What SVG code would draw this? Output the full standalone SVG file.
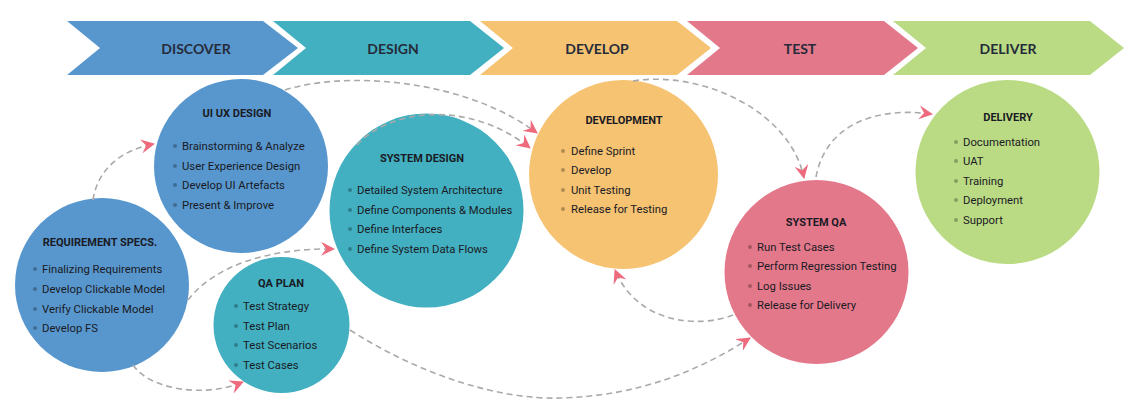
<svg xmlns="http://www.w3.org/2000/svg" width="1130" height="419" viewBox="0 0 1130 419">
<style>
.ph{font-family:Lato,"Open Sans",sans-serif;font-size:14px;font-weight:bold;fill:#262b3a;text-anchor:middle}
.t{font-family:Roboto,"Liberation Sans",sans-serif;font-size:11px;font-weight:bold;fill:#1a1a24;text-anchor:middle}
.i{font-family:Roboto,"Liberation Sans",sans-serif;font-size:11.3px;fill:#1a1a24}
.b{fill:#000;fill-opacity:0.28}
.c{fill:none;stroke:#aaaaaa;stroke-width:1.6;stroke-dasharray:6 4;marker-end:url(#ah)}
</style>
<defs>
<marker id="ah" markerUnits="userSpaceOnUse" markerWidth="14" markerHeight="14" viewBox="0 0 14 14" refX="13" refY="7" orient="auto">
<path d="M0,0 L14,7 L0,14 L5,7 z" fill="#ee6a7c"/>
</marker>
</defs>
<rect width="1130" height="419" fill="#fff"/>
<g id="phases">
<g id="phase-discover"><polygon points="67,21 263,21 298,48 263,75 67,75 100,48" fill="#5897ce"/><text class="ph" x="196" y="54">DISCOVER</text></g>
<g id="phase-design"><polygon points="273,21 470,21 504,48 470,75 273,75 306,48" fill="#42b0c1"/><text class="ph" x="393" y="54">DESIGN</text></g>
<g id="phase-develop"><polygon points="480,21 677,21 711,48 677,75 480,75 513,48" fill="#f5c372"/><text class="ph" x="597" y="54">DEVELOP</text></g>
<g id="phase-test"><polygon points="687,21 884,21 918,48 884,75 687,75 720,48" fill="#e4788b"/><text class="ph" x="800" y="54">TEST</text></g>
<g id="phase-deliver"><polygon points="893,21 1090,21 1124,48 1090,75 893,75 926,48" fill="#badb84"/><text class="ph" x="1008" y="54">DELIVER</text></g>
</g>
<g id="req-specs">
<circle cx="102" cy="285" r="87" fill="#5897ce"/>
<text class="t" x="100" y="246">REQUIREMENT SPECS.</text>
<circle class="b" cx="35" cy="269" r="2"/><text class="i" x="42" y="273">Finalizing Requirements</text>
<circle class="b" cx="35" cy="289" r="2"/><text class="i" x="42" y="293">Develop Clickable Model</text>
<circle class="b" cx="35" cy="309" r="2"/><text class="i" x="42" y="313">Verify Clickable Model</text>
<circle class="b" cx="35" cy="328" r="2"/><text class="i" x="42" y="332">Develop FS</text>
</g>
<g id="uiux-design">
<circle cx="241" cy="166" r="87" fill="#5897ce"/>
<text class="t" x="237" y="117">UI UX DESIGN</text>
<circle class="b" cx="175" cy="146" r="2"/><text class="i" x="182" y="150">Brainstorming &amp; Analyze</text>
<circle class="b" cx="175" cy="166" r="2"/><text class="i" x="182" y="170">User Experience Design</text>
<circle class="b" cx="175" cy="185" r="2"/><text class="i" x="182" y="189">Develop UI Artefacts</text>
<circle class="b" cx="175" cy="205" r="2"/><text class="i" x="182" y="209">Present &amp; Improve</text>
</g>
<g id="qa-plan">
<circle cx="281.5" cy="325" r="68" fill="#42b0c1"/>
<text class="t" x="281" y="287">QA PLAN</text>
<circle class="b" cx="236" cy="306" r="2"/><text class="i" x="243" y="310">Test Strategy</text>
<circle class="b" cx="236" cy="326" r="2"/><text class="i" x="243" y="330">Test Plan</text>
<circle class="b" cx="236" cy="345" r="2"/><text class="i" x="243" y="349">Test Scenarios</text>
<circle class="b" cx="236" cy="365" r="2"/><text class="i" x="243" y="369">Test Cases</text>
</g>
<g id="system-design">
<circle cx="426.5" cy="210.5" r="97" fill="#42b0c1"/>
<text class="t" x="422" y="162">SYSTEM DESIGN</text>
<circle class="b" cx="350" cy="190" r="2"/><text class="i" x="357" y="194">Detailed System Architecture</text>
<circle class="b" cx="350" cy="210" r="2"/><text class="i" x="357" y="214">Define Components &amp; Modules</text>
<circle class="b" cx="350" cy="229" r="2"/><text class="i" x="357" y="233">Define Interfaces</text>
<circle class="b" cx="350" cy="249" r="2"/><text class="i" x="357" y="253">Define System Data Flows</text>
</g>
<g id="development">
<circle cx="623.5" cy="174.5" r="94.5" fill="#f5c372"/>
<text class="t" x="624" y="124">DEVELOPMENT</text>
<circle class="b" cx="563" cy="151" r="2"/><text class="i" x="571" y="155">Define Sprint</text>
<circle class="b" cx="563" cy="170" r="2"/><text class="i" x="571" y="174">Develop</text>
<circle class="b" cx="563" cy="190" r="2"/><text class="i" x="571" y="194">Unit Testing</text>
<circle class="b" cx="563" cy="209" r="2"/><text class="i" x="571" y="213">Release for Testing</text>
</g>
<g id="system-qa">
<circle cx="816.5" cy="272" r="92" fill="#e4788b"/>
<text class="t" x="816" y="226">SYSTEM QA</text>
<circle class="b" cx="750" cy="247" r="2"/><text class="i" x="757" y="251">Run Test Cases</text>
<circle class="b" cx="750" cy="266" r="2"/><text class="i" x="757" y="270">Perform Regression Testing</text>
<circle class="b" cx="750" cy="286" r="2"/><text class="i" x="757" y="290">Log Issues</text>
<circle class="b" cx="750" cy="305" r="2"/><text class="i" x="757" y="309">Release for Delivery</text>
</g>
<g id="delivery">
<circle cx="1007.5" cy="172" r="92" fill="#badb84"/>
<text class="t" x="1008" y="121">DELIVERY</text>
<circle class="b" cx="956" cy="142" r="2"/><text class="i" x="963" y="146">Documentation</text>
<circle class="b" cx="956" cy="161" r="2"/><text class="i" x="963" y="165">UAT</text>
<circle class="b" cx="956" cy="181" r="2"/><text class="i" x="963" y="185">Training</text>
<circle class="b" cx="956" cy="200" r="2"/><text class="i" x="963" y="204">Deployment</text>
<circle class="b" cx="956" cy="220" r="2"/><text class="i" x="963" y="224">Support</text>
</g>
<g id="connectors">
<path class="c" d="M93,200 C98,168 122,150 154,144"/>
<path class="c" d="M188,300 C215,265 270,248 334,249"/>
<path class="c" d="M133,365 C150,390 205,398 243,382"/>
<path class="c" d="M285,90 C340,72 460,76 537,133"/>
<path class="c" d="M357,145 C390,108 470,100 530,148"/>
<path class="c" d="M633,81 C700,70 790,110 804,178"/>
<path class="c" d="M816,177 C825,128 870,106 932,114"/>
<path class="c" d="M733,315 C700,328 638,325 615,270"/>
<path class="c" d="M350,330 C420,375 500,400 560,398 C640,396 700,370 750,338"/>
</g>
</svg>
